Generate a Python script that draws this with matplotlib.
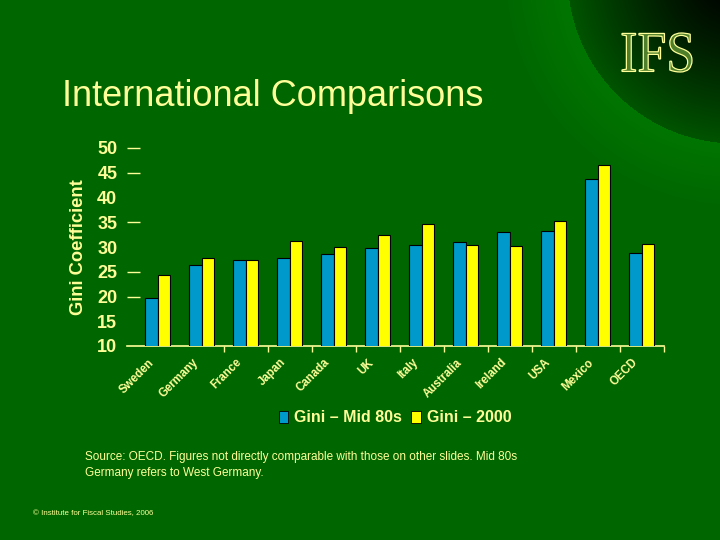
import numpy as np
import matplotlib
matplotlib.use("Agg")
import matplotlib.pyplot as plt
import matplotlib.transforms as mtrans
from matplotlib.patches import Patch, PathPatch
from matplotlib.textpath import TextPath
from matplotlib.font_manager import FontProperties

countries = ["Sweden", "Germany", "France", "Japan", "Canada", "UK", "Italy",
             "Australia", "Ireland", "USA", "Mexico", "OECD"]
gini_mid80s = [19.6, 26.3, 27.4, 27.7, 28.6, 29.7, 30.5, 31.1, 33.1, 33.3, 43.7, 28.7]
gini_2000 = [24.3, 27.7, 27.3, 31.3, 29.9, 32.4, 34.6, 30.5, 30.3, 35.2, 46.5, 30.7]
yticks = [10, 15, 20, 25, 30, 35, 40, 45, 50]
ticks_with_marks = [20, 25, 35, 45, 50]

BG = "#006600"
TXT = "#FFFF99"
BLUE = "#0099CC"
YEL = "#FFFF00"

plt.rcParams['font.family'] = ['Liberation Sans', 'DejaVu Sans']
fig = plt.figure(figsize=(7.2, 5.4), dpi=100)
fig.patch.set_facecolor(BG)

# background decoration: dark radial gradient in the top-right corner
bg = fig.add_axes([0, 0, 1, 1])
bg.set_xlim(0, 720)
bg.set_ylim(540, 0)
bg.axis("off")
W, H = 720, 540
yy, xx = np.mgrid[0:H, 0:W]
cx, cy, R = 735.0, -25.0, 168.0
d = np.sqrt((xx - cx) ** 2 + (yy - cy) ** 2)
img = np.zeros((H, W, 4))
base = np.array([0x00, 0x66, 0x00]) / 255.0
inside = d <= R
t = np.clip(d / R, 0, 1) ** 1.3
col_in = np.array([0.0, 0.33, 0.0])[None, None, :] * t[..., None]
ring = (d > R) & (d < R + 70)
img[..., :3] = base
img[inside, :3] = col_in[inside]
img[inside, 3] = 1.0
tr = np.clip((d - R) / 70.0, 0, 1)
ringcol = np.array([0.0, 0.46, 0.0])[None, None, :] * (1 - tr[..., None]) + base[None, None, :] * tr[..., None]
img[ring, :3] = ringcol[ring]
img[ring, 3] = 1.0
bg.imshow(img, extent=(0, W, H, 0), interpolation="bilinear", zorder=0)

# IFS logo (condensed, engraved-looking serif)
tp = TextPath((0, 0), "IFS", size=1, prop=FontProperties(family=["Liberation Serif", "DejaVu Serif"]))
ext = tp.get_extents()
sx = 70 / ext.width
sy = 39 / ext.height
trf = mtrans.Affine2D().translate(-ext.x0, -ext.y0).scale(sx, -sy).translate(622, 72) + bg.transData
bg.add_patch(PathPatch(tp, transform=trf, facecolor="#4F7F2A", edgecolor="#FFFF99",
                       linewidth=0.9, zorder=2))

# main chart
L, Rr, B, T = 127, 664, 346, 148
ax = fig.add_axes([L / 720, 1 - B / 540, (Rr - L) / 720, (B - T) / 540])
ax.set_facecolor("none")
x = np.arange(len(countries))
w = 0.284
ax.bar(x - w / 2, gini_mid80s, w, bottom=0, color=BLUE, edgecolor="black", linewidth=0.8, zorder=3)
ax.bar(x + w / 2, gini_2000, w, bottom=0, color=YEL, edgecolor="black", linewidth=0.8, zorder=3)
ax.set_ylim(10, 50)
ax.set_xlim(-0.7, len(countries) - 0.5)

for s in ["top", "right", "left"]:
    ax.spines[s].set_visible(False)
ax.spines["bottom"].set_color(TXT)
ax.spines["bottom"].set_linewidth(1.2)

ax.set_yticks(yticks)
ax.set_yticklabels([str(v) for v in yticks], fontsize=13, fontweight="bold", color=TXT)
ax.tick_params(axis="y", length=9.4, width=1, color=TXT, pad=7, direction="in")
for v, tk in zip(yticks, ax.yaxis.get_major_ticks()):
    tk.tick1line.set_visible(v in ticks_with_marks)

ax.set_xticks(np.arange(1, len(countries)) + 0.5, minor=True)
ax.set_xticks(x)
ax.set_xticklabels(countries, rotation=45, ha="right", va="top", rotation_mode="anchor",
                   fontsize=8.3, fontweight="bold", color=TXT)
ax.tick_params(axis="x", which="major", length=0, pad=7.5)
ax.tick_params(axis="x", which="minor", length=4, color=TXT, width=1)
lab_off = mtrans.ScaledTranslation(-10 / 100, 0, fig.dpi_scale_trans)
for lab in ax.get_xticklabels():
    lab.set_transform(lab.get_transform() + lab_off)

ax.set_ylabel("Gini Coefficient", fontsize=13.2, fontweight="bold", color=TXT)
ax.yaxis.set_label_coords((87 - L) / (Rr - L), 0.5)

# legend
handles = [Patch(facecolor=BLUE, edgecolor="black", linewidth=0.6),
           Patch(facecolor=YEL, edgecolor="black", linewidth=0.6)]
leg = fig.legend(handles, ["Gini \u2013 Mid 80s", "Gini \u2013 2000"], loc="center",
                 bbox_to_anchor=(395 / 720, 1 - 418 / 540), ncol=2, frameon=False,
                 handlelength=0.6, handleheight=0.7, handletextpad=0.35, columnspacing=0.6,
                 prop={"size": 11.5, "weight": "bold"})
for t_ in leg.get_texts():
    t_.set_color(TXT)

fig.text(62 / 720, 1 - 106 / 540, "International Comparisons", fontsize=26, color=TXT,
         ha="left", va="baseline")
fig.text(85 / 720, 1 - 451 / 540,
         "Source: OECD. Figures not directly comparable with those on other slides. Mid 80s\nGermany refers to West Germany.",
         fontsize=8.5, color=TXT, ha="left", va="top", linespacing=1.4)
fig.text(33 / 720, 1 - 515 / 540, "\u00a9 Institute for Fiscal Studies, 2006", fontsize=5.7,
         color=TXT, ha="left", va="baseline")

fig.savefig("out.png", dpi=100, facecolor=fig.get_facecolor())
